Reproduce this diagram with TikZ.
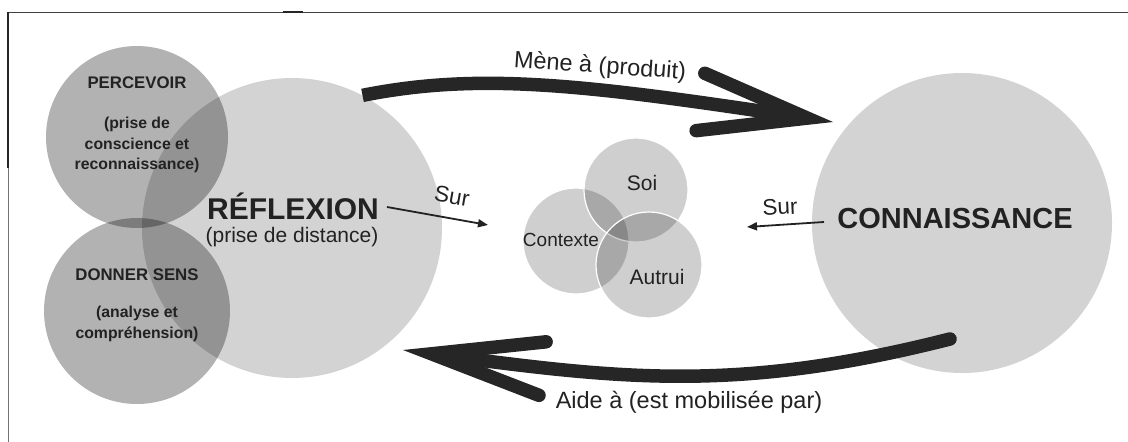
\documentclass[tikz,border=0pt]{standalone}
\usepackage{fontspec}
\setmainfont{Liberation Sans}
\usetikzlibrary{arrows.meta}
\definecolor{discgrey}{HTML}{D3D3D3}
\definecolor{ink}{HTML}{222222}
\definecolor{flowink}{HTML}{262626}

\begin{document}
\begin{tikzpicture}[
  x=1pt, y=-1pt,
  bigdisc/.style={circle, inner sep=0pt, fill=discgrey, minimum size=#1},
  darkdisc/.style={circle, inner sep=0pt, fill=black, fill opacity=0.3, minimum size=#1},
  smalldisc/.style={circle, inner sep=0pt, fill=black, fill opacity=0.19,
                    draw=white, line width=1.2pt, minimum size=#1},
  lbl/.style={text=ink, inner sep=0pt, align=center},
  flow/.style={draw=flowink, line width=13.5pt},
  surarrow/.style={draw=ink, line width=1.8pt, -{Triangle[length=10pt,width=8pt]}}
]
\useasboundingbox (0,0) rectangle (1128,442);

% frame
\draw[line width=0.9pt, black!75] (8,12) -- (1128,12);
\draw[line width=0.9pt, black!55] (8,12) -- (8,442);
\draw[line width=1.8pt, black!85] (8,12) -- (8,168);
\draw[line width=1.8pt, black!85] (283,12) -- (303,12);

% discs
\node[bigdisc=300pt] (refl) at (292,228) {};
\node[bigdisc=300pt] (conn) at (962,223) {};
\node[darkdisc=182pt] (perc) at (137,137) {};
\node[darkdisc=186pt] (sens) at (137,311) {};
\node[smalldisc=106pt] (ctx) at (576,241) {};
\node[smalldisc=104pt] (soi) at (636,190) {};
\node[smalldisc=106pt] (autr) at (649,265) {};

% disc labels
\node[lbl, font=\bfseries\fontsize{16.8}{20}\selectfont, anchor=base] (percT) at (137,88) {PERCEVOIR};
\node[lbl, font=\bfseries\fontsize{15.8}{20.5}\selectfont] (percS) at (137,145) {(prise de\\conscience et\\reconnaissance)};
\node[lbl, font=\bfseries\fontsize{16.8}{20}\selectfont, anchor=base] (sensT) at (137,280) {DONNER SENS};
\node[lbl, font=\bfseries\fontsize{15.8}{20.5}\selectfont] (sensS) at (137,324) {(analyse et\\compréhension)};
\node[lbl, font=\bfseries\fontsize{30}{30}\selectfont, anchor=base] (reflT) at (293,219) {RÉFLEXION};
\node[lbl, font=\fontsize{21}{21}\selectfont, anchor=base] (reflS) at (292,242) {(prise de distance)};
\node[lbl, font=\bfseries\fontsize{29}{29}\selectfont, anchor=base] (connT) at (955,228) {CONNAISSANCE};
\node[lbl, font=\fontsize{21}{21}\selectfont] (soiT) at (642,183) {Soi};
\node[lbl, font=\fontsize{19}{19}\selectfont] (ctxT) at (561,240) {Contexte};
\node[lbl, font=\fontsize{21}{21}\selectfont] (autrT) at (657,277) {Autrui};

% the two large flows
\coordinate (toptip) at (833,122);
\draw[flow, -{Straight Barb[length=108pt,width=58pt,line cap=round]}]
  (refl.62) .. controls (480,72) and (585,84.5) .. (toptip);
\coordinate (bottail) at (950,339);
\coordinate (bottip) at (403,350);
\draw[flow, line cap=round, -{Straight Barb[length=112pt,width=54pt,line cap=round]}]
  (bottail) .. controls (737,393) and (621,379) .. (bottip);
\node[lbl, font=\fontsize{23.5}{24}\selectfont, rotate=-4] (meneT) at (600,67) {Mène à (produit)};
\node[lbl, font=\fontsize{23.5}{24}\selectfont] (aideT) at (689,402) {Aide à (est mobilisée par)};

% "Sur" pointers
\coordinate (sur1a) at (387,207);
\coordinate (sur1b) at (488,225);
\coordinate (sur2a) at (824,222);
\coordinate (sur2b) at (747,227);
\draw[surarrow] (sur1a) -- (sur1b);
\draw[surarrow] (sur2a) -- (sur2b);
\node[lbl, font=\fontsize{22.5}{23}\selectfont, rotate=-10] (sur1T) at (452,196) {Sur};
\node[lbl, font=\fontsize{22.5}{23}\selectfont, rotate=3] (sur2T) at (780,207) {Sur};
\end{tikzpicture}
\end{document}
